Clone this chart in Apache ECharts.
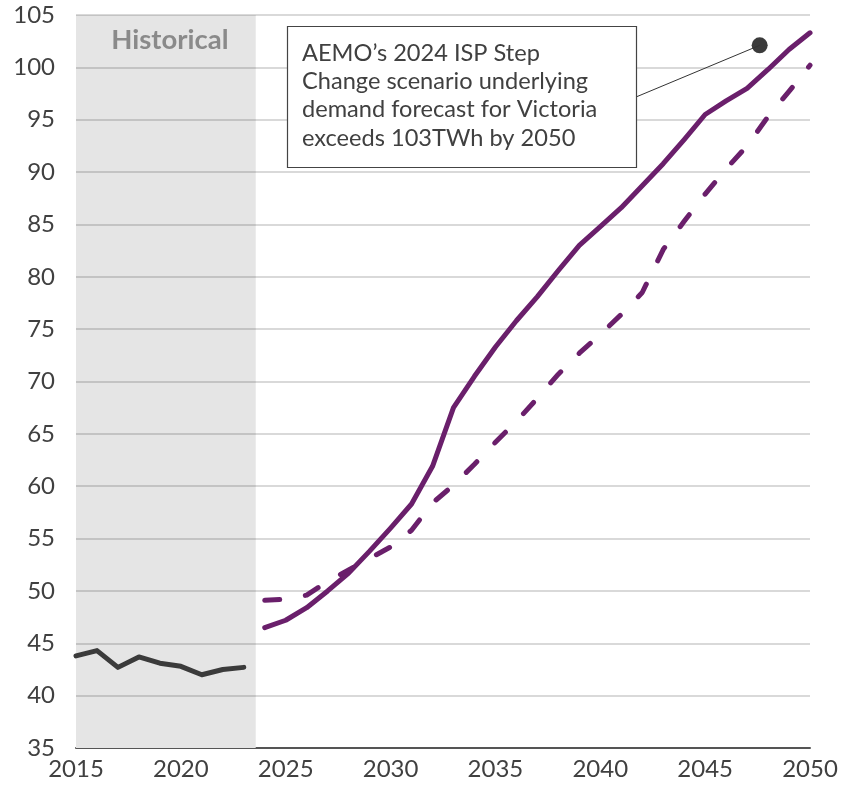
<!DOCTYPE html>
<html>
<head>
<meta charset="utf-8">
<script src="https://cdn.jsdelivr.net/npm/echarts@6/dist/echarts.min.js"></script>
<style>
  html, body { margin: 0; padding: 0; background: #ffffff; }
  #chart { width: 844px; height: 786px; }
</style>
</head>
<body>
<div id="chart"></div>
<script>
// Victorian underlying electricity demand, TWh
const historicalYears = [2015, 2016, 2017, 2018, 2019, 2020, 2021, 2022, 2023];
const historical = [43.8, 44.3, 42.7, 43.7, 43.1, 42.8, 42.0, 42.5, 42.7];

const forecastYears = [2024, 2025, 2026, 2027, 2028, 2029, 2030, 2031, 2032, 2033,
  2034, 2035, 2036, 2037, 2038, 2039, 2040, 2041, 2042, 2043,
  2044, 2045, 2046, 2047, 2048, 2049, 2050];
// AEMO 2024 ISP Step Change (solid)
const stepChange = [46.5, 47.2, 48.4, 50.0, 51.7, 53.8, 56.0, 58.3, 61.9, 67.5,
  70.5, 73.3, 75.8, 78.1, 80.6, 83.0, 84.8, 86.6, 88.7, 90.8,
  93.1, 95.5, 96.8, 98.0, 99.8, 101.7, 103.3];
// Comparison forecast (dashed)
const comparison = [49.1, 49.2, 49.6, 50.9, 52.0, 53.1, 54.2, 55.8, 58.4, 60.1,
  62.1, 64.2, 66.2, 68.4, 70.7, 72.7, 74.5, 76.4, 78.5, 82.6,
  85.3, 87.9, 90.3, 92.5, 95.3, 97.7, 100.2];

const historicalSpan = [2015, 2023.57];
const historicalLabel = 'Historical';
const calloutPoint = [2047.6, 102.1];
const calloutLines = [
  'AEMO\u2019s 2024 ISP Step',
  'Change scenario underlying',
  'demand forecast for Victoria',
  'exceeds 103TWh by 2050'
];

const xTicks = { min: 2015, max: 2050, interval: 5 };
const yTicks = { min: 35, max: 105, interval: 5 };
// horizontal reference lines, drawn over the shaded period
const gridValues = [40, 45, 50, 55, 60, 65, 70, 75, 80, 85, 90, 95, 100, 105];

const pairs = (xs, ys) => xs.map((x, i) => [x, ys[i]]);

const FONT = 'Lato, "Noto Sans", sans-serif';
const PURPLE = '#6a1f6b';
const DARK = '#3b3b3b';
const TEXT = '#404040';

const chart = echarts.init(document.getElementById('chart'), null, { renderer: 'canvas' });

chart.setOption({
  animation: false,
  backgroundColor: '#ffffff',
  textStyle: { fontFamily: FONT },
  grid: { left: 76, right: 34, top: 15, bottom: 38, containLabel: false },
  xAxis: {
    type: 'value',
    min: xTicks.min, max: xTicks.max, interval: xTicks.interval,
    axisLine: { show: true, onZero: false, lineStyle: { color: '#555555', width: 2 } },
    axisTick: { show: false },
    splitLine: { show: false },
    axisLabel: { color: TEXT, fontSize: 24, fontFamily: FONT, margin: 9, formatter: v => String(v) }
  },
  yAxis: {
    type: 'value',
    min: yTicks.min, max: yTicks.max, interval: yTicks.interval,
    axisLine: { show: false },
    axisTick: { show: false },
    splitLine: { show: false },
    axisLabel: { color: TEXT, fontSize: 24, fontFamily: FONT, margin: 21 }
  },
  series: [
    {
      // shaded historical period
      type: 'line',
      data: [],
      silent: true,
      z: 1,
      markArea: {
        silent: true,
        z: 1,
        itemStyle: { color: '#e5e5e5' },
        label: {
          show: true,
          position: 'insideTop',
          distance: 11,
          offset: [4, 0],
          color: '#8a8a8a',
          fontSize: 27.5,
          fontWeight: 'bold',
          fontFamily: FONT
        },
        data: [[
          { xAxis: historicalSpan[0], yAxis: yTicks.max, name: historicalLabel },
          { xAxis: historicalSpan[1], yAxis: yTicks.min }
        ]]
      }
    },
    {
      // horizontal grid lines, above the shading and below the data lines
      type: 'line',
      data: [],
      silent: true,
      z: 3,
      markLine: {
        silent: true,
        z: 3,
        symbol: ['none', 'none'],
        label: { show: false },
        lineStyle: { type: 'solid', width: 1.5, color: 'rgba(0,0,0,0.2)' },
        emphasis: { disabled: true },
        data: gridValues.map(v => ({ yAxis: v }))
      }
    },
    {
      name: 'Historical',
      type: 'line',
      data: pairs(historicalYears, historical),
      symbol: 'none',
      lineStyle: { color: DARK, width: 5, cap: 'round', join: 'round' },
      z: 6
    },
    {
      name: 'Comparison forecast',
      type: 'line',
      data: pairs(forecastYears, comparison),
      symbol: 'none',
      lineStyle: { color: PURPLE, width: 5, type: [15, 26], cap: 'round', join: 'round' },
      z: 6
    },
    {
      name: 'AEMO 2024 ISP Step Change',
      type: 'line',
      data: pairs(forecastYears, stepChange),
      symbol: 'none',
      lineStyle: { color: PURPLE, width: 5, cap: 'round', join: 'round' },
      z: 7
    },
    {
      name: 'Callout',
      type: 'scatter',
      data: [calloutPoint],
      symbol: 'circle',
      symbolSize: 16,
      itemStyle: { color: DARK, opacity: 1 },
      z: 8
    }
  ]
});

// Callout box and leader line to the marker
const box = { x: 287, y: 26, width: 349, height: 141 };
const dot = chart.convertToPixel({ seriesIndex: 5 }, calloutPoint);
chart.setOption({
  graphic: [
    {
      type: 'line',
      silent: true,
      z: 10,
      shape: { x1: box.x + box.width, y1: 97, x2: dot[0], y2: dot[1] },
      style: { stroke: '#333333', lineWidth: 1 }
    },
    {
      type: 'rect',
      silent: true,
      z: 10,
      shape: { x: box.x + 0.5, y: box.y + 0.5, width: box.width, height: box.height },
      style: { fill: '#ffffff', stroke: '#444444', lineWidth: 1.2 }
    },
    {
      type: 'text',
      silent: true,
      z: 11,
      x: box.x + 15,
      y: box.y + 13,
      style: {
        text: calloutLines.join('\n'),
        fill: TEXT,
        font: '23.6px ' + FONT,
        lineHeight: 28.3,
        align: 'left',
        verticalAlign: 'top'
      }
    }
  ]
});
</script>
</body>
</html>
